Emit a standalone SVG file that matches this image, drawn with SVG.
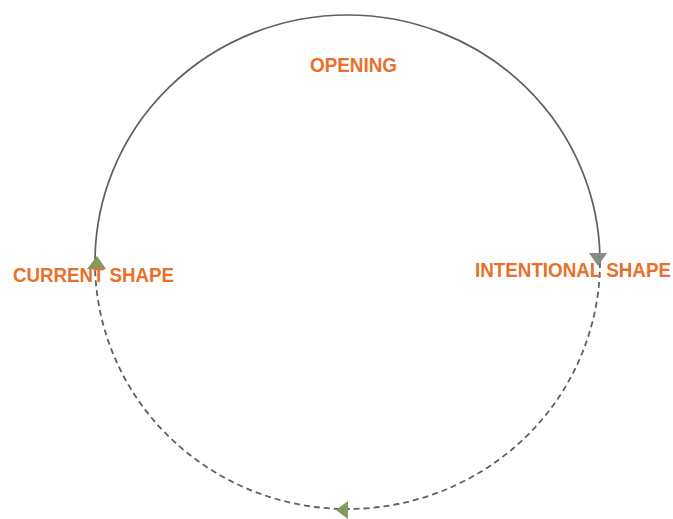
<svg xmlns="http://www.w3.org/2000/svg" width="673" height="519" viewBox="0 0 673 519">
<style>
.lbl{font-family:"Liberation Sans",Arial,sans-serif;font-weight:bold;font-size:21px;fill:#E8702A}
.solid{fill:none;stroke:#606060;stroke-width:1.7}
.dash{fill:none;stroke:#606060;stroke-width:1.8;stroke-dasharray:6,4}
</style>
<rect width="673" height="519" fill="#ffffff"/>
<g id="connectors">
<path class="solid" d="M95,262 A252.5,247 0 0 1 600,262"/>
<path class="dash" d="M600,262 A252.5,247 0 0 1 95,262"/>
<polygon points="589,253 607,253 598,266" fill="#8a8a86"/>
<polygon points="87,269 106,269 97,256" fill="#7f9a5c"/>
<polygon points="336,510 348,501 348,519" fill="#7f9a5c"/>
</g>
<g id="opening"><text class="lbl" x="310" y="72" textLength="87" lengthAdjust="spacingAndGlyphs">OPENING</text></g>
<g id="current"><text class="lbl" x="13" y="282" textLength="161" lengthAdjust="spacingAndGlyphs">CURRENT SHAPE</text></g>
<g id="intentional"><text class="lbl" x="475" y="277" textLength="196" lengthAdjust="spacingAndGlyphs">INTENTIONAL SHAPE</text></g>
</svg>
